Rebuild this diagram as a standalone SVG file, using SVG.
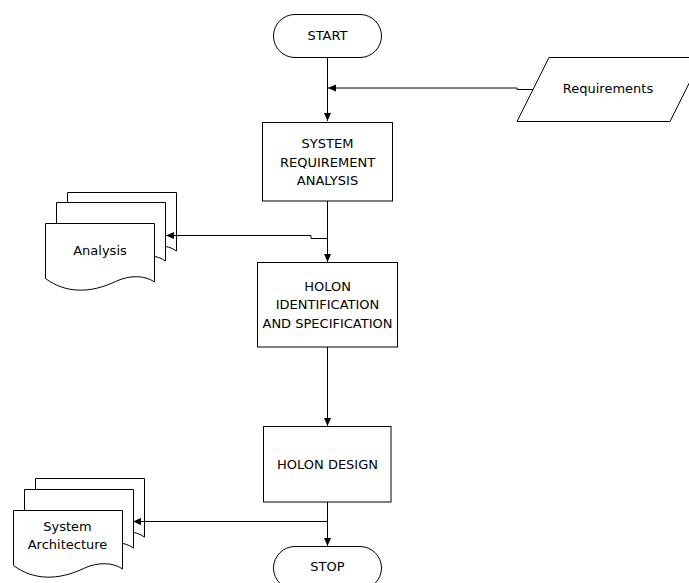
<svg xmlns="http://www.w3.org/2000/svg" xmlns:xlink="http://www.w3.org/1999/xlink" width="689" height="583" viewBox="0 0 689 583">
<style>
  .shape { fill: #ffffff; stroke: #000000; stroke-width: 1; }
  .conn { fill: none; stroke: #000000; stroke-width: 1; }
  text { font-family: "DejaVu Sans", Verdana, sans-serif; font-size: 13px; fill: #000000; text-anchor: middle; }
</style>
<defs>
  <marker id="arrow" markerUnits="userSpaceOnUse" markerWidth="8" markerHeight="8" refX="8" refY="4" orient="auto">
    <path d="M0,0.5 L8,4 L0,7.5 Z" fill="#000000"/>
  </marker>
  <path id="doc" d="M0,0 H109 V58.5 C100,52 85,51 70,58 C45,70 20,70 0,55 Z"/>
</defs>
<rect width="689" height="583" fill="#ffffff"/>

<g id="start">
  <rect class="shape" x="273.5" y="14.5" width="108" height="43" rx="21.5" ry="21.5"/>
  <text x="327.5" y="40">START</text>
</g>

<g id="requirements">
  <polygon class="shape" points="549,57.5 702,57.5 670,121.5 517,121.5"/>
  <text x="608" y="93">Requirements</text>
</g>

<g id="system-requirement-analysis">
  <rect class="shape" x="262.5" y="122.5" width="130" height="78.5"/>
  <text x="327.5" y="148">SYSTEM</text>
  <text x="327.5" y="166.5">REQUIREMENT</text>
  <text x="327.5" y="185">ANALYSIS</text>
</g>

<g id="analysis">
  <use xlink:href="#doc" href="#doc" class="shape" x="67.5" y="192.5"/>
  <use xlink:href="#doc" href="#doc" class="shape" x="56.5" y="202.5"/>
  <use xlink:href="#doc" href="#doc" class="shape" x="45.5" y="223.5"/>
  <text x="100" y="255">Analysis</text>
</g>

<g id="holon-identification">
  <rect class="shape" x="257.5" y="262.5" width="140" height="84.5"/>
  <text x="327.5" y="290.7">HOLON</text>
  <text x="327.5" y="309">IDENTIFICATION</text>
  <text x="327.5" y="327.7">AND SPECIFICATION</text>
</g>

<g id="holon-design">
  <rect class="shape" x="263.5" y="426.5" width="127.5" height="75.5"/>
  <text x="327.5" y="469">HOLON DESIGN</text>
</g>

<g id="system-architecture">
  <use xlink:href="#doc" href="#doc" class="shape" x="35.5" y="478.5"/>
  <use xlink:href="#doc" href="#doc" class="shape" x="24.5" y="489.5"/>
  <use xlink:href="#doc" href="#doc" class="shape" x="13.5" y="510.5"/>
  <text x="67.5" y="531">System</text>
  <text x="67.5" y="549">Architecture</text>
</g>

<g id="stop">
  <rect class="shape" x="273.5" y="546.5" width="108" height="43" rx="21.5" ry="21.5"/>
  <text x="327.5" y="571">STOP</text>
</g>

<g id="connectors">
  <path class="conn" d="M327.5,57 V121" marker-end="url(#arrow)"/>
  <path class="conn" d="M533,89.5 H517 V88 H328" marker-end="url(#arrow)"/>
  <path class="conn" d="M327.5,201 V262" marker-end="url(#arrow)"/>
  <path class="conn" d="M327.5,238.5 H311 V235.5 H166" marker-end="url(#arrow)"/>
  <path class="conn" d="M327.5,347 V426" marker-end="url(#arrow)"/>
  <path class="conn" d="M327.5,502 V546" marker-end="url(#arrow)"/>
  <path class="conn" d="M327.5,521.5 H133" marker-end="url(#arrow)"/>
</g>
</svg>
